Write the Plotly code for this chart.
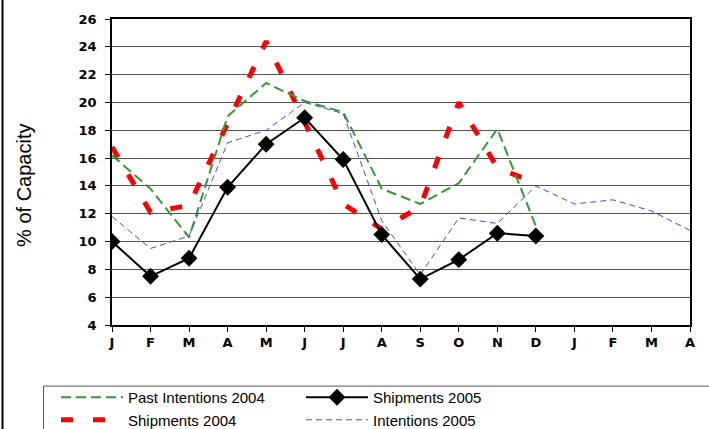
import plotly.graph_objects as go

months = ["J", "F", "M", "A", "M", "J", "J", "A", "S", "O", "N", "D", "J", "F", "M", "A"]
past_intentions_2004 = [16.2, 13.8, 10.3, 19.0, 21.4, 20.1, 19.3, 13.8, 12.7, 14.2, 18.1, 11.1]
shipments_2004 = [16.8, 12.1, 12.6, 18.6, 24.4, 18.6, 12.7, 10.9, 12.5, 20.0, 15.3, 14.2]
shipments_2005 = [10.0, 7.5, 8.8, 13.9, 17.0, 18.9, 15.9, 10.5, 7.3, 8.7, 10.6, 10.4]
intentions_2005 = [11.8, 9.5, 10.4, 17.1, 18.0, 20.0, 19.2, 11.5, 7.6, 11.7, 11.3, 14.0,
                   12.7, 13.0, 12.2, 10.8]

W, H = 709, 429
L, R, T, B = 112, 19, 17, 104
pw, ph = W - L - R, H - T - B


def px2x(p):
    return (p - L) / pw


def px2y(p):
    return (H - B - p) / ph


idx = list(range(len(months)))

fig = go.Figure()
fig.add_trace(go.Scatter(x=idx[:12], y=shipments_2004, mode="lines", name="Shipments 2004",
                         line=dict(color="#FF0000", width=5, dash="12px,20px"), legendrank=3))
fig.add_trace(go.Scatter(x=idx[:12], y=past_intentions_2004, mode="lines", name="Past Intentions 2004",
                         line=dict(color="#339933", width=2, dash="10px,5px"), legendrank=1))
fig.add_trace(go.Scatter(x=idx, y=intentions_2005, mode="lines", name="Intentions 2005",
                         line=dict(color="#4444FF", width=1, dash="6px,4px"), legendrank=4))
fig.add_trace(go.Scatter(x=idx[:12], y=shipments_2005, mode="lines+markers", name="Shipments 2005",
                         line=dict(color="#000000", width=2),
                         marker=dict(symbol="diamond", size=13, color="#000000"), legendrank=2))

tickfont = dict(family="DejaVu Sans", size=13, color="#000000", weight="bold")

fig.update_xaxes(range=[0, 15], tickmode="array", tickvals=idx, ticktext=months,
                 ticks="outside", ticklen=5, tickcolor="#000000", showgrid=False,
                 showline=True, linecolor="#000000", linewidth=1.5, mirror=True,
                 tickfont=tickfont, zeroline=False, fixedrange=True)
fig.update_yaxes(range=[4, 26], dtick=2, tick0=4, ticks="outside", ticklen=5, tickcolor="#000000",
                 showgrid=True, gridcolor="#555555", gridwidth=1,
                 showline=True, linecolor="#000000", linewidth=1.5, mirror=True,
                 tickfont=tickfont, zeroline=False, fixedrange=True, ticklabelstandoff=6)

fig.add_annotation(text="% of Capacity", x=px2x(24), y=px2y(185), xref="paper", yref="paper",
                   xanchor="center", yanchor="middle",
                   showarrow=False, textangle=-90,
                   font=dict(family="Arial, Liberation Sans", size=20, color="#000000"))

fig.add_shape(type="line", xref="paper", yref="paper", x0=px2x(2.5), x1=px2x(2.5),
              y0=px2y(-5), y1=px2y(H + 5), line=dict(color="#000000", width=2))
# legend frame
fig.add_shape(type="rect", xref="paper", yref="paper", x0=px2x(43.5), x1=px2x(W + 10),
              y0=px2y(386.5), y1=px2y(H + 10), line=dict(color="#555555", width=1),
              fillcolor="rgba(0,0,0,0)")

fig.update_layout(
    width=W, height=H, autosize=False,
    margin=dict(l=L, r=R, t=T, b=B),
    paper_bgcolor="#FFFFFF", plot_bgcolor="#FFFFFF",
    showlegend=True,
    legend=dict(orientation="h", xref="container", yref="container",
                x=56 / W, y=1 - 381 / H, xanchor="left", yanchor="top",
                borderwidth=0, bgcolor="rgba(0,0,0,0)",
                font=dict(family="Arial, Liberation Sans", size=15, color="#000000"),
                itemwidth=62, entrywidth=168, traceorder="normal"),
)

fig.write_html("out.html")
